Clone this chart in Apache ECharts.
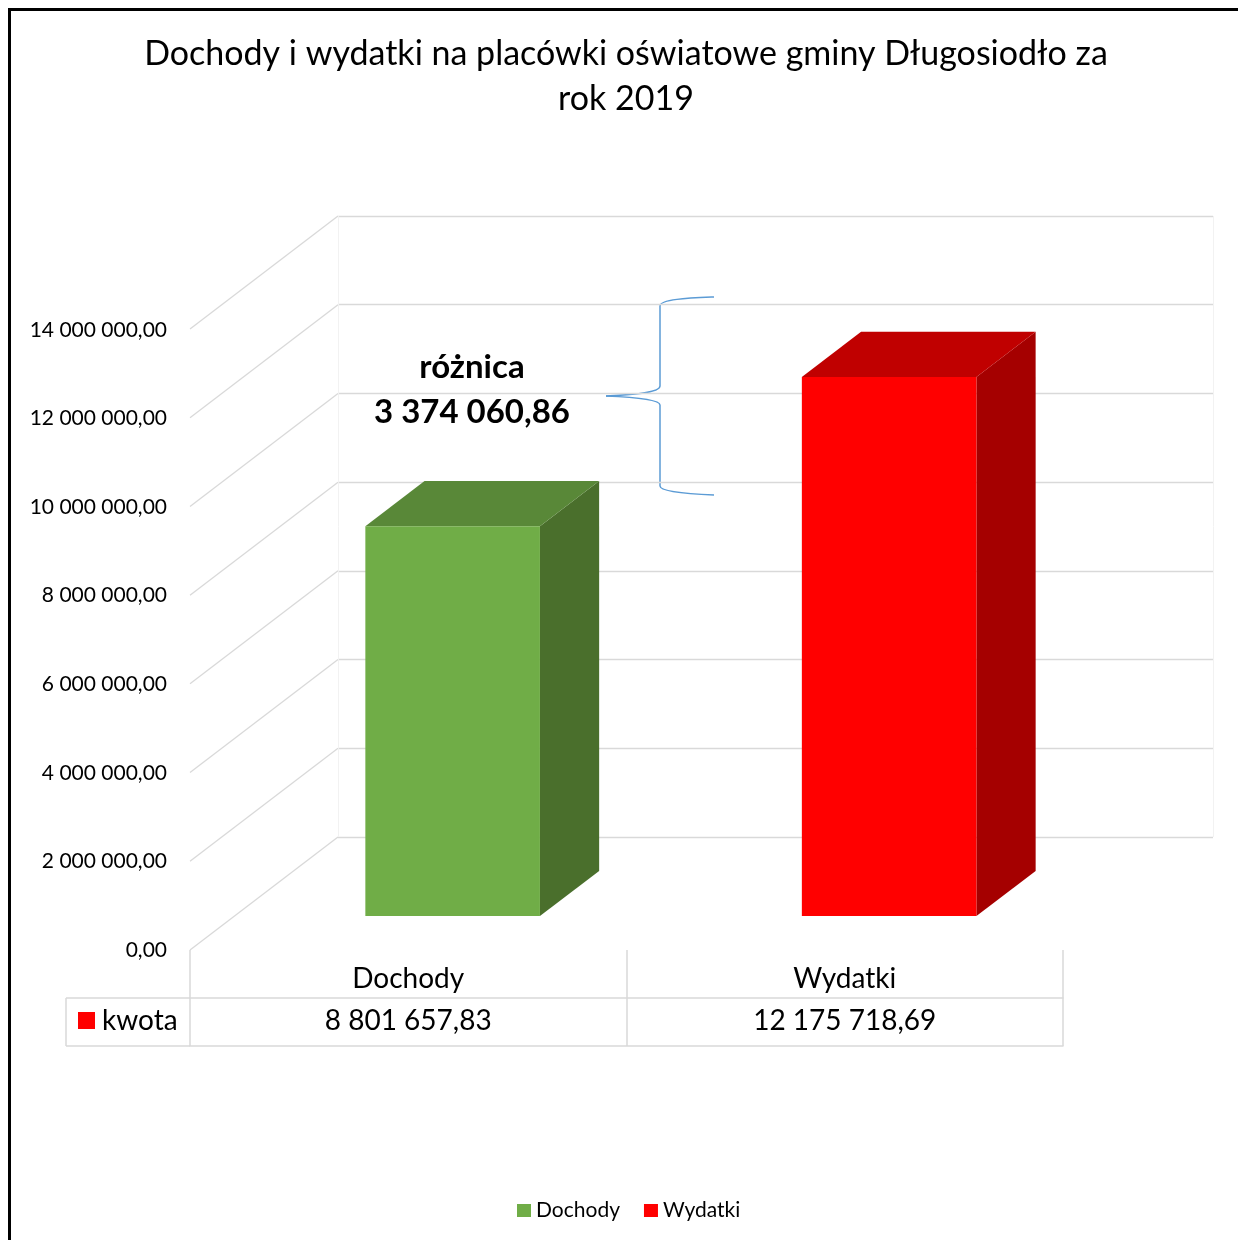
<!DOCTYPE html>
<html>
<head>
<meta charset="utf-8">
<script src="https://cdn.jsdelivr.net/npm/echarts@6/dist/echarts.min.js"></script>
<style>
html,body{margin:0;padding:0;background:#fff;}
#chart{width:1238px;height:1240px;}
</style>
</head>
<body>
<div id="chart"></div>
<script>
// ---- data ----
var titleText = 'Dochody i wydatki na placówki oświatowe gminy Długosiodło za\nrok 2019';
var categories = ['Dochody', 'Wydatki'];
var values = [8801657.83, 12175718.69];
var seriesRowName = 'kwota';
var diffLabel = 'różnica';
var yTicks = [0, 2000000, 4000000, 6000000, 8000000, 10000000, 12000000, 14000000];
var yMin = 0, yMax = 14000000, yStep = 2000000;

// ---- styles ----
var FONT = 'Lato';
var frontColors = ['#70ad47', '#ff0000'];
var topColors = ['#598838', '#c00000'];
var sideColors = ['#4a6f2c', '#a50000'];
var GRID_LINE = '#d9d9d9';
var BRACE = '#5b9bd5';
var DX = 148, DY = 113;      // depth offset of back wall
var T1 = 0.30, T2 = 0.70;    // bar depth range

function fmt(v) {
  var s = (Math.round(v * 100) / 100).toFixed(2);
  var parts = s.split('.');
  var ip = parts[0].replace(/\B(?=(\d{3})+(?!\d))/g, ' ');
  return ip + ',' + parts[1];
}

var chart = echarts.init(document.getElementById('chart'), null, {renderer: 'canvas'});

function barRender(idx) {
  return function (params, api) {
    var cat = api.value(0), v = api.value(1);
    var base = api.coord([cat, 0]);
    var top = api.coord([cat, v]);
    var bw = api.size([1, 0])[0] * 0.4;
    var x0 = base[0] - bw / 2, x1 = base[0] + bw / 2;
    var by = base[1], ty = top[1];
    var d1x = T1 * DX, d1y = -T1 * DY, d2x = T2 * DX, d2y = -T2 * DY;
    return {
      type: 'group',
      children: [
        {type: 'polygon', shape: {points: [[x1 + d1x, ty + d1y], [x1 + d2x, ty + d2y], [x1 + d2x, by + d2y], [x1 + d1x, by + d1y]]}, style: {fill: sideColors[idx]}},
        {type: 'polygon', shape: {points: [[x0 + d1x, ty + d1y], [x1 + d1x, ty + d1y], [x1 + d2x, ty + d2y], [x0 + d2x, ty + d2y]]}, style: {fill: topColors[idx]}},
        {type: 'rect', shape: {x: x0 + d1x, y: ty + d1y, width: bw, height: by - ty}, style: {fill: frontColors[idx]}}
      ]
    };
  };
}

var barSeries = categories.map(function (c, i) {
  return {
    type: 'custom',
    name: c,
    xAxisIndex: 0, yAxisIndex: 0,
    coordinateSystem: 'cartesian2d',
    clip: false,
    z: 5,
    itemStyle: {color: frontColors[i]},
    renderItem: barRender(i),
    data: [[i, values[i]]]
  };
});

var diagSeries = {
  type: 'custom',
  name: 'diag',
  xAxisIndex: 1, yAxisIndex: 1,
  coordinateSystem: 'cartesian2d',
  clip: false,
  z: 1,
  silent: true,
  renderItem: function (params, api) {
    var p = api.coord([0, api.value(0)]);
    return {type: 'line', shape: {x1: p[0], y1: p[1], x2: p[0] - DX, y2: p[1] + DY}, style: {stroke: GRID_LINE, lineWidth: 1.3}};
  },
  data: yTicks.map(function (t) { return [t]; })
};

function bz(x1, y1, cx1, cy1, cx2, cy2, x2, y2) {
  return {type: 'bezierCurve', silent: true, shape: {x1: x1, y1: y1, cpx1: cx1, cpy1: cy1, cpx2: cx2, cpy2: cy2, x2: x2, y2: y2}, style: {fill: null, stroke: BRACE, lineWidth: 1.5}};
}
function ln(x1, y1, x2, y2, c, w) {
  return {type: 'line', silent: true, shape: {x1: x1, y1: y1, x2: x2, y2: y2}, style: {stroke: c, lineWidth: w}};
}

var option = {
  animation: false,
  backgroundColor: '#fff',
  title: {
    text: titleText,
    left: 621, top: 27, textAlign: 'center',
    textStyle: {fontFamily: FONT, fontSize: 34, fontWeight: 'normal', color: '#000', lineHeight: 45}
  },
  legend: {
    data: categories,
    left: 512, top: 1195,
    icon: 'rect', itemWidth: 14, itemHeight: 13, itemGap: 24,
    textStyle: {fontFamily: FONT, fontSize: 21, color: '#000'}
  },
  grid: [
    {left: 190, right: 175, top: 330, bottom: 290},
    {left: 338, right: 25, top: 216, bottom: 403}
  ],
  xAxis: [
    {type: 'category', gridIndex: 0, data: categories, position: 'bottom',
      axisLine: {show: false},
      axisTick: {show: true, length: 96, alignWithLabel: false, lineStyle: {color: GRID_LINE, width: 1.5}},
      axisLabel: {margin: 15, fontFamily: FONT, fontSize: 28, color: '#000'},
      splitLine: {show: false}},
    {type: 'value', gridIndex: 1, min: 0, max: 1, interval: 1, show: true,
      axisLine: {show: false}, axisTick: {show: false}, axisLabel: {show: false},
      splitLine: {show: true, lineStyle: {color: '#f2f2f2', width: 1}}},
    {type: 'category', gridIndex: 0, data: values.map(fmt), position: 'bottom', offset: 48,
      axisLine: {show: true, lineStyle: {color: GRID_LINE, width: 1.5}},
      axisTick: {show: false},
      axisLabel: {margin: 9, fontFamily: FONT, fontSize: 28, color: '#000'}},
    {type: 'category', gridIndex: 0, data: categories, position: 'bottom', offset: 96,
      axisLine: {show: true, lineStyle: {color: GRID_LINE, width: 1.5}},
      axisTick: {show: false}, axisLabel: {show: false}}
  ],
  yAxis: [
    {type: 'value', gridIndex: 0, min: yMin, max: yMax, interval: yStep,
      axisLine: {show: false}, axisTick: {show: false}, splitLine: {show: false},
      axisLabel: {margin: 23, fontFamily: FONT, fontSize: 21, color: '#000', formatter: function (v) { return fmt(v); }}},
    {type: 'value', gridIndex: 1, min: yMin, max: yMax, interval: yStep,
      axisLine: {show: false}, axisTick: {show: false}, axisLabel: {show: false},
      splitLine: {show: true, lineStyle: {color: GRID_LINE, width: 1.3}}}
  ],
  series: barSeries.concat([diagSeries]),
  graphic: [
    {type: 'rect', z: 100, silent: true, shape: {x: 9.5, y: 9.5, width: 1400, height: 1400}, style: {fill: null, stroke: '#000', lineWidth: 3}},
    ln(66, 998, 190, 998, GRID_LINE, 1.5),
    ln(66, 1046, 190, 1046, GRID_LINE, 1.5),
    ln(66, 998, 66, 1046, GRID_LINE, 1.5),
    {type: 'rect', silent: true, shape: {x: 78, y: 1012, width: 17, height: 17}, style: {fill: frontColors[1]}},
    {type: 'text', silent: true, x: 102, y: 1021, style: {text: seriesRowName, font: '28px ' + FONT, fill: '#000', verticalAlign: 'middle'}},
    {type: 'text', silent: true, x: 472, y: 345, style: {text: diffLabel + '\n' + fmt(values[1] - values[0]), font: 'bold 33px ' + FONT, fill: '#000', align: 'center', verticalAlign: 'top', lineHeight: 45}},
    bz(714, 297, 690, 298, 660, 299, 660, 306),
    ln(660, 306, 660, 386, BRACE, 1.5),
    bz(660, 386, 660, 393, 630, 395, 606, 396),
    bz(606, 396, 630, 397, 660, 399, 660, 405),
    ln(660, 405, 660, 486, BRACE, 1.5),
    bz(660, 486, 660, 492, 690, 494, 714, 495)
  ]
};
chart.setOption(option);
</script>
</body>
</html>
